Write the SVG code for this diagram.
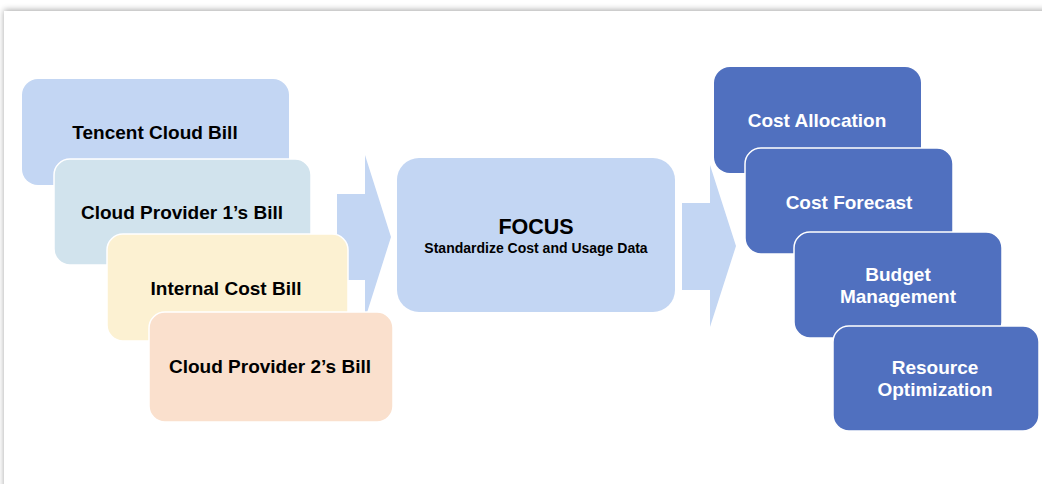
<svg xmlns="http://www.w3.org/2000/svg" width="1042" height="484" viewBox="0 0 1042 484">
<defs>
<filter id="sh" x="-5%" y="-5%" width="110%" height="110%">
<feGaussianBlur in="SourceAlpha" stdDeviation="3"/>
<feOffset dx="0" dy="-1"/>
<feComponentTransfer><feFuncA type="linear" slope="0.35"/></feComponentTransfer>
<feMerge><feMergeNode/><feMergeNode in="SourceGraphic"/></feMerge>
</filter>
</defs>
<style>
.t{font-family:"Liberation Sans",Arial,sans-serif;font-weight:bold;text-anchor:middle;font-size:19px;fill:#000}
.w{fill:#fff}
.b{stroke:#fff;stroke-width:1.5}
.arr{fill:#C3D6F3}
.out{fill:#5070BF}
</style>
<rect x="0" y="0" width="1042" height="484" fill="#fff"/>
<rect x="4" y="11" width="1060" height="490" fill="#fff" filter="url(#sh)"/>
<g id="connectors">
<polygon class="arr" points="337,194 365,194 365,155 391,237 365,319 365,280 337,280"/>
<polygon class="arr" points="682,203 710,203 710,165 736,246 710,327 710,290 682,290"/>
</g>
<g id="tencent">
<rect x="22" y="79" width="267" height="106" rx="16" fill="#C3D6F3"/>
<text class="t" x="155" y="139">Tencent Cloud Bill</text>
</g>
<g id="provider1">
<rect class="b" x="54" y="159" width="257" height="106" rx="16" fill="#D1E3ED"/>
<text class="t" x="182" y="219">Cloud Provider 1’s Bill</text>
</g>
<g id="internal">
<rect class="b" x="107" y="234" width="241" height="107" rx="16" fill="#FCF1D2"/>
<text class="t" x="226" y="295">Internal Cost Bill</text>
</g>
<g id="provider2">
<rect class="b" x="149" y="312" width="244" height="110" rx="16" fill="#FAE0CD"/>
<text class="t" x="270" y="373">Cloud Provider 2’s Bill</text>
</g>
<g id="focus">
<rect x="397" y="158" width="278" height="154" rx="22" fill="#C3D6F3"/>
<text class="t" x="536" y="234" style="font-size:21.5px">FOCUS</text>
<text class="t" x="536" y="253" style="font-size:14px">Standardize Cost and Usage Data</text>
</g>
<g id="allocation">
<rect class="out" x="714" y="67" width="207" height="106" rx="16"/>
<text class="t w" x="817" y="127">Cost Allocation</text>
</g>
<g id="forecast">
<rect class="out b" x="745" y="148" width="208" height="106" rx="16"/>
<text class="t w" x="849" y="209">Cost Forecast</text>
</g>
<g id="budget">
<rect class="out b" x="794" y="232" width="208" height="106" rx="16"/>
<text class="t w" x="898" y="281">Budget</text>
<text class="t w" x="898" y="303">Management</text>
</g>
<g id="resource">
<rect class="out b" x="833" y="326" width="206" height="105" rx="16"/>
<text class="t w" x="935" y="374">Resource</text>
<text class="t w" x="935" y="396">Optimization</text>
</g>
</svg>
